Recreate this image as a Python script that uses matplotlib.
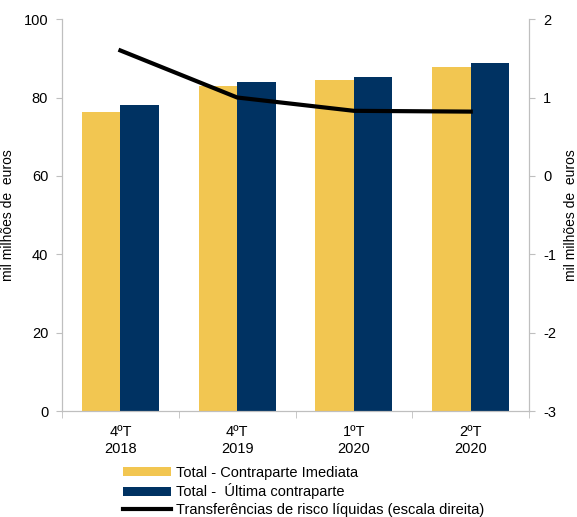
import matplotlib
matplotlib.use("Agg")
import matplotlib.pyplot as plt
from matplotlib.patches import Patch
from matplotlib.lines import Line2D

plt.rcParams['font.family'] = ['Liberation Sans', 'DejaVu Sans']
plt.rcParams['axes.unicode_minus'] = False

categories = ['4ºT\n2018', '4ºT\n2019', '1ºT\n2020', '2ºT\n2020']
imediata = [76.4, 82.9, 84.4, 87.8]
ultima = [78.0, 84.0, 85.2, 88.7]
transferencias = [1.6, 1.0, 0.83, 0.82]

yellow = '#F2C651'
navy = '#003262'
grey = '#BFBFBF'

fig = plt.figure(figsize=(5.77, 5.17), dpi=100)
ax = fig.add_axes([0.1075, 0.205, 0.8095, 0.758])
ax2 = ax.twinx()

x = range(len(categories))
w = 0.33
ax.bar([i - w / 2 for i in x], imediata, width=w, color=yellow)
ax.bar([i + w / 2 for i in x], ultima, width=w, color=navy)
ax2.plot(list(x), transferencias, color='black', lw=3)

ax.set_xlim(-0.5, 3.5)
ax.set_ylim(0, 100)
ax.set_yticks(range(0, 101, 20))
ax2.set_ylim(-3, 2)
ax2.set_yticks(range(-3, 3))

ax.set_xticks(list(x))
ax.set_xticklabels(categories, fontsize=10.5, linespacing=1.3)
ax.set_xticks([-0.5, 0.5, 1.5, 2.5, 3.5], minor=True)
ax.tick_params(axis='x', which='major', length=0, pad=10)
ax.tick_params(axis='x', which='minor', length=5, color=grey, direction='out')
ax.tick_params(axis='y', labelsize=10.5, length=4, color=grey, direction='out', pad=6)
ax2.tick_params(axis='y', labelsize=10.5, length=4, color=grey, direction='out', pad=6)

for a in (ax, ax2):
    a.spines['top'].set_visible(False)
    for s in ('left', 'right', 'bottom'):
        a.spines[s].set_color(grey)

ax.set_ylabel('mil milhões de  euros', fontsize=10, labelpad=6)
ax2.set_ylabel('mil milhões de  euros', fontsize=10, labelpad=6)

handles = [Patch(facecolor=yellow), Patch(facecolor=navy), Line2D([0], [0], color='black', lw=3)]
labels = ['Total - Contraparte Imediata', 'Total -  Última contraparte',
          'Transferências de risco líquidas (escala direita)']
fig.legend(handles, labels, loc='upper left', bbox_to_anchor=(0.213, 0.099),
           frameon=False, fontsize=10.5, handlelength=3.3, handleheight=0.62,
           labelspacing=0.25, handletextpad=0.35, borderpad=0, borderaxespad=0)

fig.savefig('out.png', dpi=100)
